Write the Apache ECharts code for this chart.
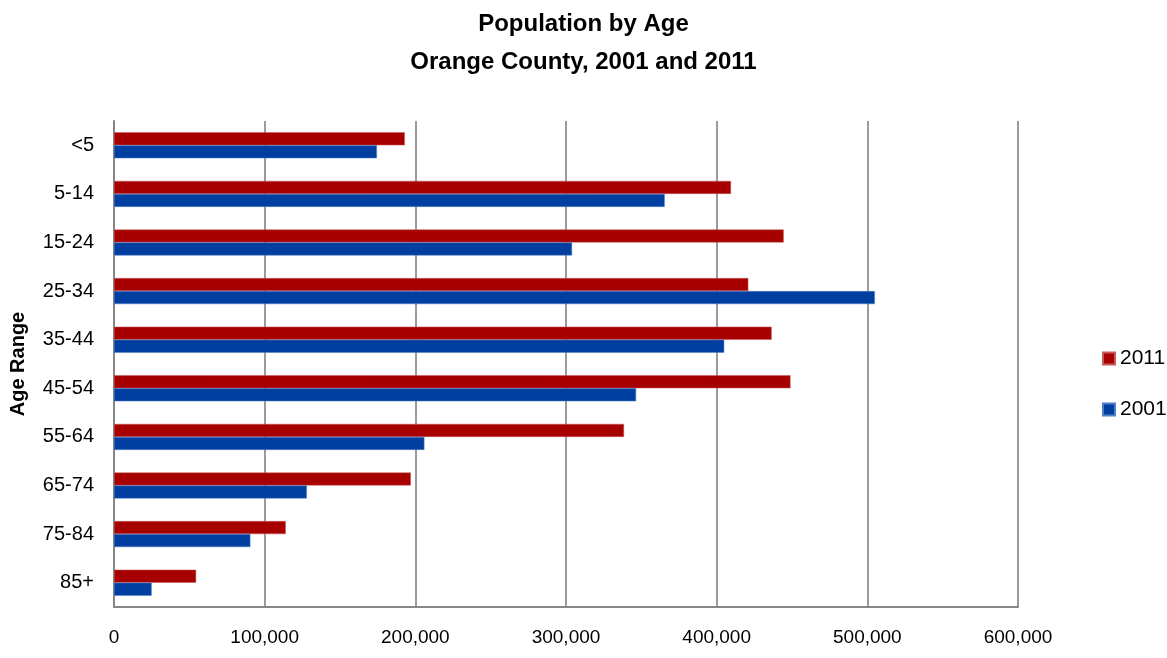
<!DOCTYPE html>
<html>
<head>
<meta charset="utf-8">
<script src="https://cdn.jsdelivr.net/npm/echarts@6/dist/echarts.min.js"></script>
<style>
html,body{margin:0;padding:0;background:#fff;}
#chart{width:1167px;height:658px;}
</style>
</head>
<body>
<div id="chart"></div>
<script>
const categories = ['<5','5-14','15-24','25-34','35-44','45-54','55-64','65-74','75-84','85+'];
const seriesNames = ['2011','2001'];
const values2011 = [193000, 409500, 444500, 421000, 436500, 449000, 338500, 197000, 114000, 54500];
const values2001 = [174500, 365500, 304000, 505000, 405000, 346500, 206000, 128000, 90500, 25000];
const xTicks = [0, 100000, 200000, 300000, 400000, 500000, 600000];

const FONT = '"Liberation Sans Narrow", "Liberation Sans", sans-serif';
const chart = echarts.init(document.getElementById('chart'));
chart.setOption({
  animation: false,
  backgroundColor: '#ffffff',
  title: {
    text: 'Population by Age\nOrange County, 2001 and 2011',
    left: 'center',
    top: 0,
    textStyle: { fontFamily: FONT, fontSize: 24, fontWeight: 'bold', color: '#000', lineHeight: 38 }
  },
  legend: {
    orient: 'vertical',
    left: 1097,
    top: 343,
    itemWidth: 12,
    itemHeight: 12,
    itemGap: 30,
    icon: 'rect',
    data: seriesNames,
    textStyle: { fontFamily: FONT, fontSize: 21, color: '#000', padding: [0,0,0,0] }
  },
  grid: { left: 113, right: 149, top: 121, bottom: 51, containLabel: false },
  xAxis: {
    type: 'value',
    min: xTicks[0],
    max: xTicks[xTicks.length - 1],
    interval: 100000,
    axisLine: { show: true, lineStyle: { color: '#868686', width: 2 } },
    axisTick: { show: false },
    splitLine: { show: true, lineStyle: { color: '#7a7a7a', width: 1.5 } },
    axisLabel: {
      fontFamily: FONT, fontSize: 19, color: '#000', margin: 21,
      formatter: v => v.toLocaleString('en-US')
    }
  },
  yAxis: {
    type: 'category',
    data: categories,
    inverse: true,
    name: 'Age Range',
    nameLocation: 'middle',
    nameGap: 86,
    nameRotate: 90,
    nameTextStyle: { fontFamily: FONT, fontSize: 20, fontWeight: 'bold', color: '#000', padding: [0, 0, 0, 0] },
    axisLine: { show: true, lineStyle: { color: '#868686', width: 2 } },
    axisTick: { show: false },
    axisLabel: { fontFamily: FONT, fontSize: 20, color: '#000', margin: 20 }
  },
  series: [
    { name: seriesNames[0], type: 'bar', data: values2011, barWidth: 13, barGap: '0%',
      itemStyle: { color: '#A60000', borderColor: '#c85a5a', borderWidth: 0.5 } },
    { name: seriesNames[1], type: 'bar', data: values2001, barWidth: 13, barGap: '0%',
      itemStyle: { color: '#003FA0', borderColor: '#4f7fc8', borderWidth: 0.5 } }
  ]
});
</script>
</body>
</html>
